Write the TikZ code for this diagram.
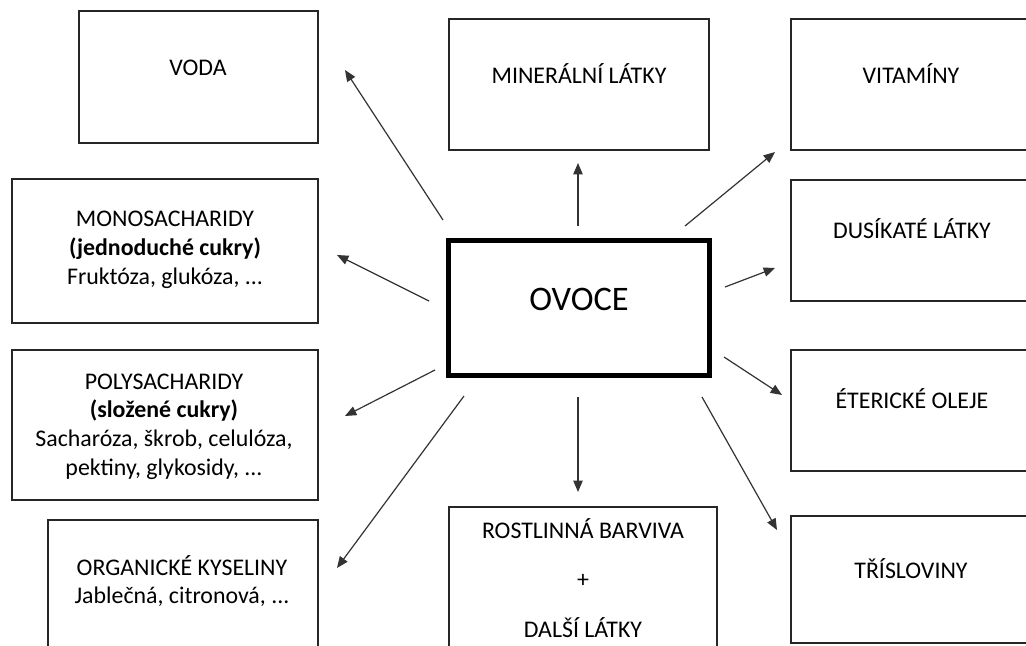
\documentclass[tikz,border=0pt]{standalone}
\usepackage{fontspec}
\setmainfont{Carlito}
\usetikzlibrary{arrows.meta}
\tikzset{
  box/.style={line width=0.8pt, black!85},
  label/.style={anchor=base, align=center, inner sep=0pt, font=\fontsize{17.9}{21.4}\selectfont},
  arr/.style={-{Triangle[length=8.5pt,width=7pt]}, line width=0.9pt, black!80}
}
\begin{document}
\begin{tikzpicture}[x=0.75pt,y=-0.75pt]
    \clip (0,0) rectangle (1026,646);
    \fill[white] (0,0) rectangle (1026,646);

    % Centre
    \draw[line width=3.75pt] (448.5,240.5) rectangle (709.5,375.5);
    \node[label, font=\fontsize{25.8}{28}\selectfont] (ovoce) at (579,310) {OVOCE};

    % Left column (base anchor = last line)
    \draw[box] (79,11) rectangle (318,143);
    \node[label] (voda) at (198,75) {VODA};
    \draw[box] (12,179) rectangle (318,323);
    \node[label, font=\fontsize{17.9}{21.4}\selectfont] (mono) at (165,284)
        {MONOSACHARIDY\\\textbf{(jednoduché cukry)}\\Fruktóza, glukóza, ...};
    \draw[box] (12,350) rectangle (318,500);
    \node[label, font=\fontsize{17.9}{21.5}\selectfont] (poly) at (164,475)
        {POLYSACHARIDY\\\textbf{(složené cukry)}\\Sacharóza, škrob, celulóza,\\pektiny, glykosidy, ...};
    \draw[box] (48,520) rectangle (318,660);
    \node[label, font=\fontsize{17.9}{20.3}\selectfont] (org) at (182,603)
        {ORGANICKÉ KYSELINY\\Jablečná, citronová, ...};

    % Middle column
    \draw[box] (449,19) rectangle (709,150);
    \node[label] (miner) at (579,83) {MINERÁLNÍ LÁTKY};
    \draw[box] (449,507) rectangle (717,660);
    \node[label, font=\fontsize{17.9}{37.1}\selectfont] (rost) at (583,637)
        {ROSTLINNÁ BARVIVA\\+\\DALŠÍ LÁTKY};

    % Right column
    \draw[box] (791,19) rectangle (1040,150);
    \node[label] (vitam) at (911,84) {VITAMÍNY};
    \draw[box] (791,180) rectangle (1040,301);
    \node[label] (dusik) at (912,238) {DUSÍKATÉ LÁTKY};
    \draw[box] (791,350) rectangle (1040,471);
    \node[label] (eter) at (912,408) {ÉTERICKÉ OLEJE};
    \draw[box] (791,516) rectangle (1040,643);
    \node[label] (trisl) at (911,578) {TŘÍSLOVINY};

    % Arrow ends
    \coordinate (voda-s) at (443,220);  \coordinate (voda-e) at (345,70);
    \coordinate (miner-s) at (578,226); \coordinate (miner-e) at (578,163);
    \coordinate (vitam-s) at (685,226); \coordinate (vitam-e) at (775,152);
    \coordinate (mono-s) at (429,301);  \coordinate (mono-e) at (337,255);
    \coordinate (dusik-s) at (725,287); \coordinate (dusik-e) at (775,268);
    \coordinate (poly-s) at (435,370);  \coordinate (poly-e) at (345,416);
    \coordinate (eter-s) at (724,357);  \coordinate (eter-e) at (782,395);
    \coordinate (org-s) at (464,396);   \coordinate (org-e) at (337,568);
    \coordinate (rost-s) at (578,397);  \coordinate (rost-e) at (578,492);
    \coordinate (trisl-s) at (702,397); \coordinate (trisl-e) at (777,530);

    % Arrows
    \foreach \n in {voda,miner,vitam,mono,dusik,poly,eter,org,rost,trisl}
        \draw[arr] (\n-s) -- (\n-e);
\end{tikzpicture}
\end{document}
